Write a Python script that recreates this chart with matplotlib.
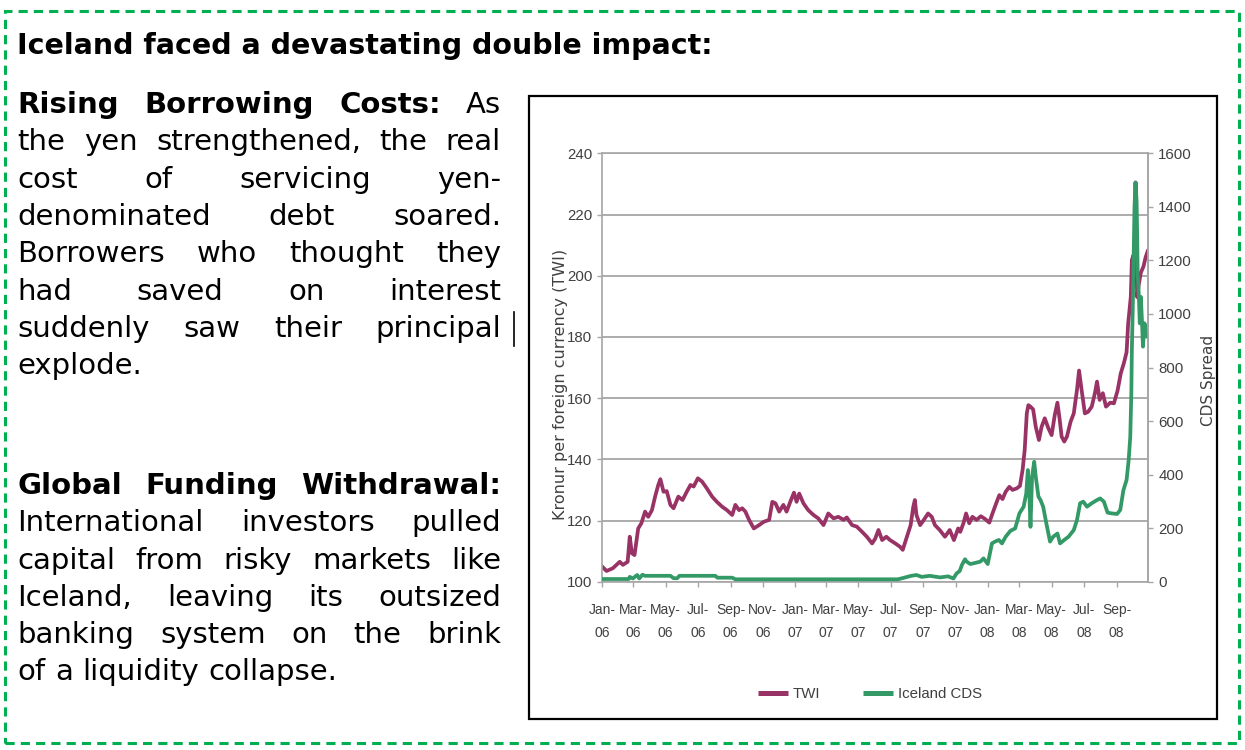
import matplotlib
matplotlib.use('Agg')
import matplotlib.pyplot as plt
from matplotlib import font_manager
from matplotlib.patches import Rectangle
from matplotlib.lines import Line2D
import pandas as pd

# ---- data (day offset from 1 Jan 2006, value) ----
twi_day = [0, 8, 20, 33, 39, 48, 52, 56, 61, 68, 74, 81, 87, 94, 100, 106, 110, 116, 122,
           129, 135, 144, 152, 160, 167, 173, 181, 189, 198, 208, 217, 227, 236, 246, 252,
           259, 265, 271, 278, 287, 297, 306, 316, 322, 328, 335, 343, 349, 356, 363, 368,
           373, 381, 390, 400, 409, 419, 428, 438, 447, 457, 463, 473, 482, 492, 501, 511,
           517, 523, 530, 538, 545, 555, 564, 569, 577, 584, 589, 592, 595, 602, 609, 617,
           624, 630, 639, 649, 658, 666, 674, 678, 684, 689, 695, 701, 709, 717, 725, 733,
           739, 746, 752, 758, 764, 771, 777, 785, 791, 796, 800, 804, 807, 811, 816, 821,
           827, 832, 838, 845, 851, 857, 862, 866, 870, 875, 880, 887, 893, 899, 903, 907,
           914, 920, 927, 933, 937, 942, 948, 954, 962, 969, 976, 982, 988, 993, 996, 1001,
           1003, 1006, 1008, 1010, 1011, 1013, 1016, 1020, 1025, 1029, 1033]
twi_val = [104.9, 103.5, 104.4, 106.5, 105.5, 106.5, 114.7, 109.3, 108.7, 117.4, 119.1,
           122.9, 121.2, 123.4, 127.8, 131.6, 133.5, 129.4, 129.6, 125.1, 124.0, 127.8,
           126.7, 129.4, 131.6, 131.1, 133.8, 132.7, 130.5, 127.8, 126.1, 124.5, 123.4,
           121.8, 125.1, 123.4, 124.0, 122.9, 120.2, 117.4, 118.5, 119.6, 120.2, 126.1,
           125.6, 122.9, 125.1, 122.9, 126.1, 129.1, 126.1, 128.8, 125.6, 123.4, 121.8,
           120.7, 118.5, 122.3, 120.7, 121.2, 120.2, 121.0, 118.5, 118.0, 116.3, 114.7,
           112.5, 114.1, 116.9, 113.6, 114.7, 113.6, 112.5, 111.4, 110.4, 114.7, 118.5,
           124.5, 126.7, 121.8, 118.5, 120.2, 122.3, 121.2, 118.5, 116.9, 114.7, 116.9,
           113.6, 117.4, 116.3, 119.1, 122.3, 119.1, 121.2, 120.2, 121.4, 120.5, 119.3,
           122.3, 125.6, 128.3, 127.0, 129.4, 131.0, 130.0, 130.5, 131.3, 136.5, 143.0,
           155.0, 157.7, 157.2, 156.3, 150.6, 146.3, 150.6, 153.4, 150.1, 147.9, 154.5,
           158.5, 153.4, 147.4, 145.8, 147.4, 152.3, 155.0, 162.6, 169.0, 163.7, 155.0,
           155.5, 157.2, 161.6, 165.4, 159.4, 161.6, 157.2, 158.5, 158.3, 162.5, 168.1,
           171.5, 175.0, 184.4, 193.1, 205.1, 206.7, 204.0, 230.5, 212.0, 193.0, 197.0,
           201.0, 203.0, 206.0, 208.0]

cds_day = [0, 50, 52, 58, 66, 70, 76, 81, 129, 135, 142, 146, 214, 218, 246, 252, 560,
           570, 585, 595, 605, 620, 640, 655, 665, 671, 677, 681, 687, 690, 697, 706, 716,
           722, 730, 738, 744, 751, 757, 764, 773, 782, 790, 798, 803, 806, 809, 811, 814,
           818, 821, 826, 830, 835, 841, 848, 854, 862, 867, 875, 883, 893, 899, 905, 911,
           918, 927, 937, 943, 950, 957, 965, 975, 981, 987, 993, 997, 1000, 1002, 1003,
           1005, 1008, 1010, 1012, 1013, 1014, 1016, 1018, 1020, 1022, 1024, 1027, 1031, 1033]
cds_val = [10, 10, 18, 12, 25, 12, 26, 22, 22, 13, 13, 22, 22, 15, 15, 9, 9,
           14, 22, 25, 18, 22, 16, 20, 12, 31, 40, 62, 84, 75, 66, 70, 75,
           87, 66, 143, 150, 156, 143, 168, 190, 199, 255, 280, 330, 417, 318, 205, 392,
           448, 392, 318, 305, 280, 218, 150, 168, 180, 143, 156, 168, 193, 230, 293, 299,
           280, 293, 305, 311, 299, 258, 255, 253, 268, 342, 380, 455, 542, 704, 865,
           1052, 1400, 1490, 1420, 1300, 1150, 1077, 965, 1064, 980, 878, 965, 915, 925]

twi_ticks = [100, 120, 140, 160, 180, 200, 220, 240]
cds_ticks = [0, 200, 400, 600, 800, 1000, 1200, 1400, 1600]

title = "Iceland faced a devastating double impact:"
para1 = [
    [("Rising", "bold"), ("Borrowing", "bold"), ("Costs:", "bold"), ("As", "normal")],
    "the yen strengthened, the real",
    "cost of servicing yen-",
    "denominated debt soared.",
    "Borrowers who thought they",
    "had saved on interest",
    "suddenly saw their principal",
    "explode.",
]
para2 = [
    [("Global", "bold"), ("Funding", "bold"), ("Withdrawal:", "bold")],
    "International investors pulled",
    "capital from risky markets like",
    "Iceland, leaving its outsized",
    "banking system on the brink",
    "of a liquidity collapse.",
]

W, H = 1245, 750


def fx(x):
    return x / W


def fy(y):
    return 1 - y / H


names = set(f.name for f in font_manager.fontManager.ttflist)
narrow = 'Liberation Sans Narrow' if 'Liberation Sans Narrow' in names else 'Liberation Sans'
plt.rcParams['font.family'] = [narrow, 'DejaVu Sans']
XTICK_FS = 11.5 if narrow == 'Liberation Sans Narrow' else 10
YTICK_FS = 11.5 if narrow == 'Liberation Sans Narrow' else 10.8

fig = plt.figure(figsize=(12.45, 7.5), dpi=100)
fig.patch.set_facecolor('white')
renderer = fig.canvas.get_renderer()

TEXT_FONT = 'DejaVu Sans'


def measure(s, size, weight):
    t = fig.text(0, 0, s, fontsize=size, fontweight=weight, family=TEXT_FONT)
    w = t.get_window_extent(renderer).width
    t.remove()
    return w


# outer dashed frame
fig.add_artist(Rectangle((fx(5), fy(743)), fx(1239) - fx(5), fy(11) - fy(743),
                         transform=fig.transFigure, fill=False, ec='#00B050',
                         lw=2.2, ls=(0, (3, 2))))

# title, sized to its width in the reference
size = 20 * 695 / measure(title, 20, 'bold')
fig.text(fx(17), fy(54), title, fontsize=size, fontweight='bold',
         family=TEXT_FONT, va='baseline', ha='left')

# justified paragraphs
FS = 21
LEFT, RIGHT = 17.5, 501
space = measure("n n", FS, 'normal') - measure("nn", FS, 'normal')


def draw_para(lines, y0, step=37.3):
    for i, line in enumerate(lines):
        if isinstance(line, str):
            words = [(w, 'normal') for w in line.split()]
        else:
            words = line
        widths = [measure(w, FS, wt) for w, wt in words]
        last = i == len(lines) - 1
        if not last and len(words) > 1:
            gap = (RIGHT - LEFT - sum(widths)) / (len(words) - 1)
        else:
            gap = space
        x = LEFT
        y = y0 + i * step
        for (w, wt), wd in zip(words, widths):
            fig.text(fx(x), fy(y), w, fontsize=FS, fontweight=wt, family=TEXT_FONT,
                     va='baseline', ha='left', color='black')
            x += wd + gap


draw_para(para1, 113)
draw_para(para2, 494)

# text cursor left in the slide
fig.add_artist(Line2D([fx(514), fx(514)], [fy(312), fy(346)], color='black', lw=1.2))

# chart frame
fig.add_artist(Rectangle((fx(529), fy(719)), fx(1217) - fx(529), fy(96) - fy(719),
                         transform=fig.transFigure, fill=False, ec='black', lw=1.6))

# chart
grey = '#A6A6A6'
ax = fig.add_axes([fx(602.3), fy(581.7), (1147.7 - 602.3) / W, (581.7 - 153.3) / H])
base = pd.Timestamp('2006-01-01')
twi_dates = base + pd.to_timedelta(twi_day, unit='D')
cds_dates = base + pd.to_timedelta(cds_day, unit='D')

ax.plot(twi_dates, twi_val, color='#993366', lw=2.7, label='TWI')
ax.set_ylim(100, 240)
ax.set_yticks(twi_ticks)
ax.set_xlim(base, base + pd.Timedelta(days=1033))
tick_dates = pd.date_range('2006-01-01', '2008-09-01', freq='2MS')
ax.set_xticks(tick_dates)
ax.set_xticklabels([d.strftime('%b-\n%y') for d in tick_dates], linespacing=1.75)
ax.yaxis.grid(True, color=grey, lw=1.3)
ax.set_axisbelow(True)

ax2 = ax.twinx()
ax2.plot(cds_dates, cds_val, color='#339966', lw=2.7, label='Iceland CDS')
ax2.set_ylim(0, 1600)
ax2.set_yticks(cds_ticks)

for a in (ax, ax2):
    for s in a.spines.values():
        s.set_color(grey)
        s.set_linewidth(1.2)
ax2.spines['left'].set_visible(False)
ax2.spines['bottom'].set_visible(False)
ax2.spines['top'].set_visible(False)

ax.tick_params(axis='y', direction='out', length=3.6, width=1, color=grey,
               labelsize=YTICK_FS, labelcolor='#404040', pad=3.5)
ax.tick_params(axis='x', direction='out', length=3.6, width=1, color=grey,
               labelsize=XTICK_FS, labelcolor='#404040', pad=12)
ax2.tick_params(axis='y', direction='out', length=3.6, width=1, color=grey,
                labelsize=YTICK_FS, labelcolor='#404040', pad=4)

fig.text(fx(560), fy(384), 'Kronur per foreign currency (TWI)', rotation=90,
         ha='center', va='center', family='DejaVu Sans', fontsize=11.5, color='#404040')
fig.text(fx(1208), fy(380), 'CDS Spread', rotation=90,
         ha='center', va='center', family='DejaVu Sans', fontsize=11, color='#404040')

fig.legend([ax.lines[0], ax2.lines[0]], ['TWI', 'Iceland CDS'], loc='center',
           bbox_to_anchor=(fx(870), fy(694)), ncol=2, frameon=False, fontsize=YTICK_FS,
           handlelength=2.0, handletextpad=0.3, columnspacing=2.9, labelcolor='#404040')
for h in fig.legends[0].legend_handles:
    h.set_linewidth(3.6)
    h.set_solid_capstyle('butt')

fig.savefig('out.png', dpi=100, facecolor='white')
